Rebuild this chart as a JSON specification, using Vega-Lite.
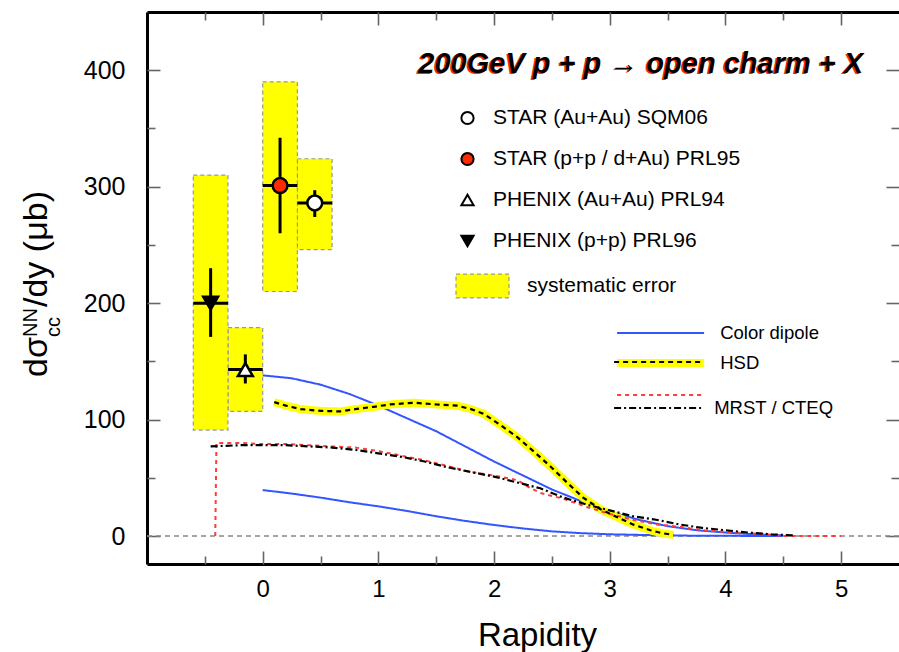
{
  "$schema": "https://vega.github.io/schema/vega-lite/v6.json",
  "width": 752,
  "height": 552,
  "autosize": {"type": "none"},
  "padding": {"left": 147, "top": 12, "right": 0, "bottom": 88},
  "background": "white",
  "config": {
    "font": "Liberation Sans",
    "view": {"stroke": null},
    "axis": {"grid": false, "labelColor": "black", "labelFont": "Liberation Sans", "titleFont": "Liberation Sans", "titleColor": "black", "tickColor": "#666666", "tickWidth": 1.6, "domainColor": "black", "zindex": 1},
    "legend": {"labelFont": "Liberation Sans", "labelColor": "black", "padding": 0, "title": null, "labelLimit": 0}
  },
  "datasets": {
    "pts": [
      {"dataset": "STAR (Au+Au) SQM06", "x": 0.45, "y": 286, "ylo": 274, "yhi": 297, "xlo": 0.3, "xhi": 0.6, "blo": 246, "bhi": 324},
      {"dataset": "STAR (p+p / d+Au) PRL95", "x": 0.15, "y": 301, "ylo": 260, "yhi": 342, "xlo": 0.0, "xhi": 0.3, "blo": 210, "bhi": 390},
      {"dataset": "PHENIX (Au+Au) PRL94", "x": -0.15, "y": 143, "ylo": 131, "yhi": 156, "xlo": -0.3, "xhi": 0.0, "blo": 107, "bhi": 179},
      {"dataset": "PHENIX (p+p) PRL96", "x": -0.45, "y": 200, "ylo": 171, "yhi": 230, "xlo": -0.6, "xhi": -0.3, "blo": 91, "bhi": 310}
    ],
    "theory": [
      {"model": "Color dipole", "curve": "cd1", "x": 0, "y": 138},
      {"model": "Color dipole", "curve": "cd1", "x": 0.25, "y": 135.5},
      {"model": "Color dipole", "curve": "cd1", "x": 0.5, "y": 130},
      {"model": "Color dipole", "curve": "cd1", "x": 0.75, "y": 122},
      {"model": "Color dipole", "curve": "cd1", "x": 1.0, "y": 112},
      {"model": "Color dipole", "curve": "cd1", "x": 1.25, "y": 101},
      {"model": "Color dipole", "curve": "cd1", "x": 1.5, "y": 90},
      {"model": "Color dipole", "curve": "cd1", "x": 1.75, "y": 77},
      {"model": "Color dipole", "curve": "cd1", "x": 2.0, "y": 64},
      {"model": "Color dipole", "curve": "cd1", "x": 2.25, "y": 52},
      {"model": "Color dipole", "curve": "cd1", "x": 2.5, "y": 40},
      {"model": "Color dipole", "curve": "cd1", "x": 2.75, "y": 30},
      {"model": "Color dipole", "curve": "cd1", "x": 3.0, "y": 21},
      {"model": "Color dipole", "curve": "cd1", "x": 3.25, "y": 14},
      {"model": "Color dipole", "curve": "cd1", "x": 3.5, "y": 8.5},
      {"model": "Color dipole", "curve": "cd1", "x": 3.75, "y": 5},
      {"model": "Color dipole", "curve": "cd1", "x": 4.0, "y": 3},
      {"model": "Color dipole", "curve": "cd1", "x": 4.25, "y": 1.5},
      {"model": "Color dipole", "curve": "cd1", "x": 4.5, "y": 0.5},
      {"model": "Color dipole", "curve": "cd2", "x": 0, "y": 39.5},
      {"model": "Color dipole", "curve": "cd2", "x": 0.25, "y": 36.5},
      {"model": "Color dipole", "curve": "cd2", "x": 0.5, "y": 33},
      {"model": "Color dipole", "curve": "cd2", "x": 0.75, "y": 29},
      {"model": "Color dipole", "curve": "cd2", "x": 1.0, "y": 25.5},
      {"model": "Color dipole", "curve": "cd2", "x": 1.25, "y": 21.5},
      {"model": "Color dipole", "curve": "cd2", "x": 1.5, "y": 17},
      {"model": "Color dipole", "curve": "cd2", "x": 1.75, "y": 13},
      {"model": "Color dipole", "curve": "cd2", "x": 2.0, "y": 9.5},
      {"model": "Color dipole", "curve": "cd2", "x": 2.25, "y": 6.5},
      {"model": "Color dipole", "curve": "cd2", "x": 2.5, "y": 4},
      {"model": "Color dipole", "curve": "cd2", "x": 2.75, "y": 2.5},
      {"model": "Color dipole", "curve": "cd2", "x": 3.0, "y": 1.5},
      {"model": "Color dipole", "curve": "cd2", "x": 3.25, "y": 1},
      {"model": "Color dipole", "curve": "cd2", "x": 3.5, "y": 0.5},
      {"model": "Color dipole", "curve": "cd2", "x": 3.75, "y": 0.3},
      {"model": "Color dipole", "curve": "cd2", "x": 4.0, "y": 0.2},
      {"model": "Color dipole", "curve": "cd2", "x": 4.25, "y": 0.1},
      {"model": "Color dipole", "curve": "cd2", "x": 4.5, "y": 0},
      {"model": "HSD", "curve": "hsd", "x": 0.1, "y": 115},
      {"model": "HSD", "curve": "hsd", "x": 0.2, "y": 112},
      {"model": "HSD", "curve": "hsd", "x": 0.33, "y": 109},
      {"model": "HSD", "curve": "hsd", "x": 0.5, "y": 107.5},
      {"model": "HSD", "curve": "hsd", "x": 0.67, "y": 107},
      {"model": "HSD", "curve": "hsd", "x": 0.8, "y": 109},
      {"model": "HSD", "curve": "hsd", "x": 0.96, "y": 111},
      {"model": "HSD", "curve": "hsd", "x": 1.1, "y": 113},
      {"model": "HSD", "curve": "hsd", "x": 1.31, "y": 114.5},
      {"model": "HSD", "curve": "hsd", "x": 1.5, "y": 113},
      {"model": "HSD", "curve": "hsd", "x": 1.68, "y": 112},
      {"model": "HSD", "curve": "hsd", "x": 1.8, "y": 109},
      {"model": "HSD", "curve": "hsd", "x": 1.91, "y": 105},
      {"model": "HSD", "curve": "hsd", "x": 2.06, "y": 95},
      {"model": "HSD", "curve": "hsd", "x": 2.2, "y": 85},
      {"model": "HSD", "curve": "hsd", "x": 2.35, "y": 72},
      {"model": "HSD", "curve": "hsd", "x": 2.49, "y": 59.5},
      {"model": "HSD", "curve": "hsd", "x": 2.63, "y": 46},
      {"model": "HSD", "curve": "hsd", "x": 2.77, "y": 33},
      {"model": "HSD", "curve": "hsd", "x": 2.92, "y": 23},
      {"model": "HSD", "curve": "hsd", "x": 3.07, "y": 16},
      {"model": "HSD", "curve": "hsd", "x": 3.2, "y": 10},
      {"model": "HSD", "curve": "hsd", "x": 3.35, "y": 5},
      {"model": "HSD", "curve": "hsd", "x": 3.45, "y": 2.5},
      {"model": "HSD", "curve": "hsd", "x": 3.55, "y": 1},
      {"model": "MRST", "curve": "mrst", "x": -0.41, "y": 0},
      {"model": "MRST", "curve": "mrst", "x": -0.4, "y": 80},
      {"model": "MRST", "curve": "mrst", "x": -0.3, "y": 80},
      {"model": "MRST", "curve": "mrst", "x": -0.2, "y": 80},
      {"model": "MRST", "curve": "mrst", "x": 0, "y": 79},
      {"model": "MRST", "curve": "mrst", "x": 0.2, "y": 79},
      {"model": "MRST", "curve": "mrst", "x": 0.4, "y": 78},
      {"model": "MRST", "curve": "mrst", "x": 0.6, "y": 77},
      {"model": "MRST", "curve": "mrst", "x": 0.8, "y": 76},
      {"model": "MRST", "curve": "mrst", "x": 1.0, "y": 73},
      {"model": "MRST", "curve": "mrst", "x": 1.2, "y": 69},
      {"model": "MRST", "curve": "mrst", "x": 1.4, "y": 65},
      {"model": "MRST", "curve": "mrst", "x": 1.6, "y": 60},
      {"model": "MRST", "curve": "mrst", "x": 1.8, "y": 55},
      {"model": "MRST", "curve": "mrst", "x": 2.0, "y": 52},
      {"model": "MRST", "curve": "mrst", "x": 2.2, "y": 48},
      {"model": "MRST", "curve": "mrst", "x": 2.3, "y": 42},
      {"model": "MRST", "curve": "mrst", "x": 2.4, "y": 37},
      {"model": "MRST", "curve": "mrst", "x": 2.6, "y": 32},
      {"model": "MRST", "curve": "mrst", "x": 2.8, "y": 25},
      {"model": "MRST", "curve": "mrst", "x": 3.0, "y": 19},
      {"model": "MRST", "curve": "mrst", "x": 3.2, "y": 14},
      {"model": "MRST", "curve": "mrst", "x": 3.4, "y": 10},
      {"model": "MRST", "curve": "mrst", "x": 3.6, "y": 8},
      {"model": "MRST", "curve": "mrst", "x": 3.8, "y": 5},
      {"model": "MRST", "curve": "mrst", "x": 4.0, "y": 3.5},
      {"model": "MRST", "curve": "mrst", "x": 4.2, "y": 2.5},
      {"model": "MRST", "curve": "mrst", "x": 4.4, "y": 1},
      {"model": "MRST", "curve": "mrst", "x": 4.5, "y": 0},
      {"model": "MRST", "curve": "mrst", "x": 5.0, "y": 0},
      {"model": "CTEQ", "curve": "cteq", "x": -0.45, "y": 77},
      {"model": "CTEQ", "curve": "cteq", "x": -0.2, "y": 78},
      {"model": "CTEQ", "curve": "cteq", "x": 0, "y": 78},
      {"model": "CTEQ", "curve": "cteq", "x": 0.2, "y": 78},
      {"model": "CTEQ", "curve": "cteq", "x": 0.4, "y": 77},
      {"model": "CTEQ", "curve": "cteq", "x": 0.6, "y": 76},
      {"model": "CTEQ", "curve": "cteq", "x": 0.8, "y": 74},
      {"model": "CTEQ", "curve": "cteq", "x": 1.0, "y": 71},
      {"model": "CTEQ", "curve": "cteq", "x": 1.2, "y": 68},
      {"model": "CTEQ", "curve": "cteq", "x": 1.4, "y": 64},
      {"model": "CTEQ", "curve": "cteq", "x": 1.6, "y": 59},
      {"model": "CTEQ", "curve": "cteq", "x": 1.8, "y": 55},
      {"model": "CTEQ", "curve": "cteq", "x": 2.0, "y": 51},
      {"model": "CTEQ", "curve": "cteq", "x": 2.2, "y": 46},
      {"model": "CTEQ", "curve": "cteq", "x": 2.4, "y": 41},
      {"model": "CTEQ", "curve": "cteq", "x": 2.6, "y": 33},
      {"model": "CTEQ", "curve": "cteq", "x": 2.8, "y": 27},
      {"model": "CTEQ", "curve": "cteq", "x": 3.0, "y": 22},
      {"model": "CTEQ", "curve": "cteq", "x": 3.2, "y": 17},
      {"model": "CTEQ", "curve": "cteq", "x": 3.4, "y": 14},
      {"model": "CTEQ", "curve": "cteq", "x": 3.6, "y": 10},
      {"model": "CTEQ", "curve": "cteq", "x": 3.8, "y": 7},
      {"model": "CTEQ", "curve": "cteq", "x": 4.0, "y": 5},
      {"model": "CTEQ", "curve": "cteq", "x": 4.2, "y": 3},
      {"model": "CTEQ", "curve": "cteq", "x": 4.4, "y": 1.5},
      {"model": "CTEQ", "curve": "cteq", "x": 4.6, "y": 0.5}
    ]
  },
  "layer": [
    {
      "data": {"name": "pts"},
      "mark": {"type": "rect", "stroke": "#999999", "strokeDash": [4, 3], "strokeWidth": 1.2},
      "encoding": {
        "x": {
          "field": "xlo", "type": "quantitative",
          "scale": {"domain": [-1, 5.5], "nice": false, "zero": false},
          "axis": {
            "orient": "bottom",
            "values": [0, 1, 2, 3, 4, 5],
            "ticks": false,
            "labelFontSize": 24,
            "labelPadding": 13,
            "labelFlush": false,
            "labelOverlap": false,
            "domain": true,
            "domainWidth": 3,
            "title": "Rapidity",
            "titleFontSize": 33,
            "titleFontWeight": "normal",
            "titleX": 390,
            "titleY": 81,
            "titleBaseline": "alphabetic",
            "titleAlign": "center"
          }
        },
        "x2": {"field": "xhi"},
        "y": {
          "field": "blo", "type": "quantitative",
          "scale": {"domain": [-24, 450], "nice": false, "zero": false},
          "axis": {
            "orient": "left",
            "values": [0, 100, 200, 300, 400],
            "ticks": false,
            "labelFontSize": 25,
            "labelPadding": 22,
            "labelOverlap": false,
            "labelFlush": false,
            "domain": true,
            "domainWidth": 3,
            "title": null
          }
        },
        "y2": {"field": "bhi"},
        "fill": {
          "datum": "systematic error", "type": "nominal",
          "scale": {"domain": ["systematic error"], "range": ["#ffff00"]},
          "legend": {
            "orient": "none", "legendX": 308, "legendY": 246.5,
            "symbolType": "M-1,-0.45L1,-0.45L1,0.45L-1,0.45Z",
            "symbolSize": 2809,
            "symbolStrokeColor": "#999999",
            "symbolDash": [4, 3],
            "symbolStrokeWidth": 1.2,
            "symbolOpacity": 1,
            "labelFontSize": 21,
            "labelOffset": 17
          }
        }
      }
    },
    {
      "data": {"values": [{}]},
      "mark": {"type": "rule", "stroke": "#888888", "strokeDash": [5, 4], "strokeWidth": 1.5},
      "encoding": {"y": {"datum": 0, "type": "quantitative", "axis": null}}
    },
    {
      "data": {"name": "theory"},
      "transform": [{"filter": "datum.model !== 'CTEQ'"}],
      "mark": {"type": "line", "strokeCap": "butt", "clip": true},
      "encoding": {
        "x": {
          "field": "x", "type": "quantitative",
          "axis": {"orient": "top", "ticks": false, "labels": false, "domain": true, "domainWidth": 3, "title": null}
        },
        "y": {
          "field": "y", "type": "quantitative",
          "axis": {"orient": "right", "values": [0, 100, 200, 300, 400], "tickSize": 13, "offset": -13, "labels": false, "domain": false, "title": null}
        },
        "detail": {"field": "curve", "type": "nominal"},
        "color": {
          "field": "model", "type": "nominal",
          "scale": {"domain": ["Color dipole", "HSD", "MRST"], "range": ["#3355ff", "#ffff00", "#ff3b3b"]},
          "legend": {
            "orient": "none", "legendX": 498.6, "legendY": 309,
            "symbolType": "M-4,0L4,0", "symbolSize": 473,
            "labelFontSize": 18.5, "labelOffset": 44.6, "rowPadding": 4,
            "labelExpr": "datum.label === 'MRST' ? '' : datum.label"
          }
        },
        "strokeDash": {
          "field": "model", "type": "nominal",
          "scale": {"domain": ["Color dipole", "HSD", "MRST"], "range": [[1, 0], [1, 0], [4, 4]]},
          "legend": {
            "orient": "none", "legendX": 498.6, "legendY": 309,
            "symbolType": "M-4,0L4,0", "symbolSize": 473,
            "labelFontSize": 18.5, "labelOffset": 44.6, "rowPadding": 4,
            "labelExpr": "datum.label === 'MRST' ? '' : datum.label"
          }
        },
        "strokeWidth": {
          "field": "model", "type": "nominal",
          "scale": {"type": "ordinal", "domain": ["Color dipole", "HSD", "MRST"], "range": [2, 8, 2]},
          "legend": {
            "orient": "none", "legendX": 498.6, "legendY": 309,
            "symbolType": "M-4,0L4,0", "symbolSize": 473,
            "labelFontSize": 18.5, "labelOffset": 44.6, "rowPadding": 4,
            "labelExpr": "datum.label === 'MRST' ? '' : datum.label"
          }
        }
      }
    },
    {
      "data": {"name": "theory"},
      "transform": [{"filter": "datum.model === 'HSD' || datum.model === 'CTEQ'"}],
      "mark": {"type": "line", "stroke": "black", "strokeWidth": 2.2, "strokeCap": "butt", "clip": true},
      "encoding": {
        "x": {
          "field": "x", "type": "quantitative",
          "axis": {"orient": "bottom", "values": [-1, 0, 1, 2, 3, 4, 5], "tickSize": 13, "offset": -13, "labels": false, "domain": false, "title": null}
        },
        "y": {
          "field": "y", "type": "quantitative",
          "axis": {"orient": "left", "values": [0, 100, 200, 300, 400], "tickSize": 13, "offset": -13, "labels": false, "domain": false, "title": null}
        },
        "strokeDash": {
          "field": "model", "type": "nominal",
          "scale": {"domain": ["HSD", "CTEQ"], "range": [[5, 4], [7, 3, 2, 3]]},
          "legend": {
            "orient": "none", "legendX": 498.6, "legendY": 338,
            "symbolType": "M-4,0L4,0", "symbolSize": 473,
            "symbolStrokeColor": "black", "symbolStrokeWidth": 2.2,
            "labelFontSize": 18.5, "labelOffset": 44.6, "rowPadding": 24,
            "labelExpr": "datum.label === 'CTEQ' ? 'MRST / CTEQ' : ''"
          }
        }
      }
    },
    {
      "data": {"name": "pts"},
      "mark": {"type": "rule", "stroke": "black", "strokeWidth": 3},
      "encoding": {
        "x": {
          "field": "x", "type": "quantitative",
          "axis": {"orient": "bottom", "values": [-0.5, 0.5, 1.5, 2.5, 3.5, 4.5], "tickSize": 8, "offset": -8, "labels": false, "domain": false, "title": null}
        },
        "y": {
          "field": "ylo", "type": "quantitative",
          "axis": {"orient": "left", "values": [50, 150, 250, 350], "tickSize": 8, "offset": -8, "labels": false, "domain": false, "title": null}
        },
        "y2": {"field": "yhi"}
      }
    },
    {
      "data": {"name": "pts"},
      "mark": {"type": "rule", "stroke": "black", "strokeWidth": 3},
      "encoding": {
        "x": {
          "field": "xlo", "type": "quantitative",
          "axis": {"orient": "top", "values": [-0.5, 0.5, 1.5, 2.5, 3.5, 4.5], "tickSize": 8, "offset": -8, "labels": false, "domain": false, "title": null}
        },
        "x2": {"field": "xhi"},
        "y": {
          "field": "y", "type": "quantitative",
          "axis": {"orient": "right", "values": [50, 150, 250, 350], "tickSize": 8, "offset": -8, "labels": false, "domain": false, "title": null}
        }
      }
    },
    {
      "data": {"name": "pts"},
      "mark": {"type": "point", "filled": true, "size": 220, "stroke": "black", "strokeWidth": 2.5, "opacity": 1},
      "encoding": {
        "x": {
          "field": "x", "type": "quantitative",
          "axis": {"orient": "top", "values": [-1, 0, 1, 2, 3, 4, 5], "tickSize": 13, "offset": -13, "labels": false, "domain": false, "title": null}
        },
        "y": {"field": "y", "type": "quantitative", "axis": null},
        "shape": {
          "field": "dataset", "type": "nominal",
          "scale": {"domain": ["STAR (Au+Au) SQM06", "STAR (p+p / d+Au) PRL95", "PHENIX (Au+Au) PRL94", "PHENIX (p+p) PRL96"], "range": ["circle", "circle", "triangle-up", "triangle-down"]},
          "legend": {
            "orient": "none", "legendX": 310, "legendY": 95.5,
            "symbolSize": 150, "symbolStrokeColor": "black", "symbolStrokeWidth": 2, "symbolOpacity": 1,
            "labelFontSize": 21, "labelOffset": 15, "rowPadding": 19,
            "encode": {"symbols": {"update": {"stroke": {"value": "black"}, "strokeWidth": {"value": 2}}}}
          }
        },
        "fill": {
          "field": "dataset", "type": "nominal",
          "scale": {"domain": ["STAR (Au+Au) SQM06", "STAR (p+p / d+Au) PRL95", "PHENIX (Au+Au) PRL94", "PHENIX (p+p) PRL96"], "range": ["white", "#ff2a00", "white", "black"]},
          "legend": {
            "orient": "none", "legendX": 310, "legendY": 95.5,
            "symbolSize": 150, "symbolStrokeColor": "black", "symbolStrokeWidth": 2, "symbolOpacity": 1,
            "labelFontSize": 21, "labelOffset": 15, "rowPadding": 19,
            "encode": {"symbols": {"update": {"stroke": {"value": "black"}, "strokeWidth": {"value": 2}}}}
          }
        }
      }
    },
    {
      "data": {"values": [{}]},
      "mark": {"type": "text", "text": "200GeV p + p \u2192 open charm + X", "font": "Liberation Sans", "fontWeight": "bold", "fontStyle": "italic", "fontSize": 29, "align": "right", "baseline": "alphabetic", "color": "#ff2a00", "dx": -1.5, "dy": 1.5},
      "encoding": {"x": {"datum": 5.19, "type": "quantitative", "axis": null}, "y": {"datum": 398, "type": "quantitative", "axis": null}}
    },
    {
      "data": {"values": [{}]},
      "mark": {"type": "text", "text": "200GeV p + p \u2192 open charm + X", "font": "Liberation Sans", "fontWeight": "bold", "fontStyle": "italic", "fontSize": 29, "align": "right", "baseline": "alphabetic", "color": "black"},
      "encoding": {"x": {"datum": 5.19, "type": "quantitative", "axis": null}, "y": {"datum": 398, "type": "quantitative", "axis": null}}
    },
    {
      "data": {"values": [{}]},
      "mark": {"type": "text", "text": "d\u03c3", "font": "Liberation Sans", "fontSize": 34, "angle": 270, "align": "left", "baseline": "alphabetic", "color": "black"},
      "encoding": {"x": {"datum": -1.864, "type": "quantitative", "axis": null}, "y": {"datum": 136.6, "type": "quantitative", "axis": null}}
    },
    {
      "data": {"values": [{}]},
      "mark": {"type": "text", "text": "NN", "font": "Liberation Sans", "fontSize": 20, "angle": 270, "align": "left", "baseline": "alphabetic", "color": "black"},
      "encoding": {"x": {"datum": -1.955, "type": "quantitative", "axis": null}, "y": {"datum": 171.0, "type": "quantitative", "axis": null}}
    },
    {
      "data": {"values": [{}]},
      "mark": {"type": "text", "text": "cc", "font": "Liberation Sans", "fontSize": 20, "angle": 270, "align": "left", "baseline": "alphabetic", "color": "black"},
      "encoding": {"x": {"datum": -1.752, "type": "quantitative", "axis": null}, "y": {"datum": 171.0, "type": "quantitative", "axis": null}}
    },
    {
      "data": {"values": [{}]},
      "mark": {"type": "text", "text": "/dy (\u03bcb)", "font": "Liberation Sans", "fontSize": 34, "angle": 270, "align": "left", "baseline": "alphabetic", "color": "black"},
      "encoding": {"x": {"datum": -1.864, "type": "quantitative", "axis": null}, "y": {"datum": 196.7, "type": "quantitative", "axis": null}}
    }
  ],
  "resolve": {
    "scale": {"fill": "independent", "strokeDash": "independent"},
    "axis": {"x": "independent", "y": "independent"},
    "legend": {"color": "independent", "shape": "independent", "strokeWidth": "independent", "fill": "independent", "strokeDash": "independent"}
  }
}
